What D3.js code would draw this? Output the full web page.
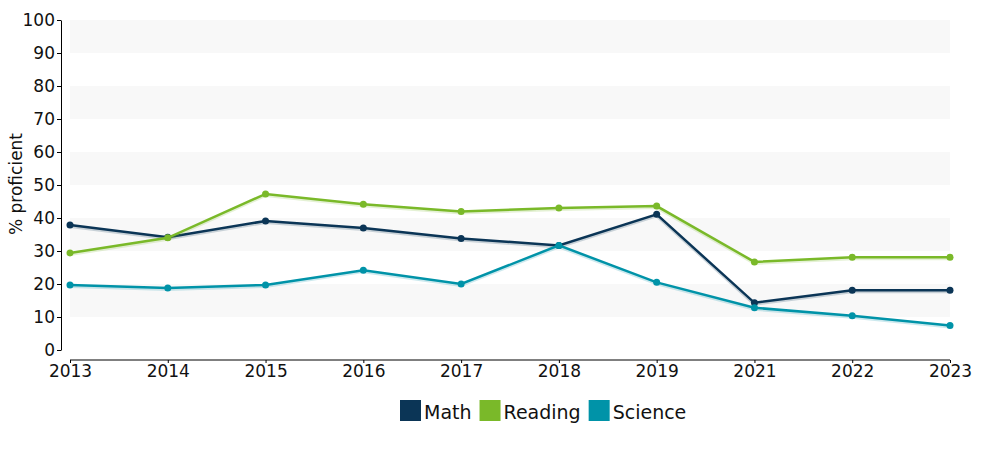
<!DOCTYPE html>
<html><head><meta charset="utf-8">
<script src="https://cdn.jsdelivr.net/npm/d3@7"></script>
<style>body{margin:0;background:#fff}svg{display:block;font-family:"DejaVu Sans",Verdana,sans-serif}</style>
</head><body><svg id="c" width="1000" height="450"></svg>
<script>
const years = ["2013","2014","2015","2016","2017","2018","2019","2021","2022","2023"];
const math = [37.9,34.2,39.1,37.0,33.8,31.7,41.1,14.3,18.1,18.1];
const reading = [29.4,34.0,47.3,44.2,42.0,43.0,43.6,26.7,28.1,28.1];
const science = [19.7,18.8,19.7,24.2,20.0,31.7,20.5,12.8,10.4,7.4];
const yTicks = [0,10,20,30,40,50,60,70,80,90,100];
const seriesNames = ["Math","Reading","Science"];
const seriesColors = ["#0b3556","#7ab929","#0093a8"];

const series = [math, reading, science].map((v,i)=>({name:seriesNames[i],color:seriesColors[i],values:v}));
const svg = d3.select("#c");
const x = d3.scalePoint().domain(years).range([70,950]);
const y = d3.scaleLinear().domain([0,100]).range([350,20]);

// bands
const bands = [];
for (let i=0;i<yTicks.length-1;i++) if (i%2===1) bands.push([yTicks[i],yTicks[i+1]]);
svg.append("g").selectAll("rect").data(bands).join("rect")
  .attr("x",70).attr("width",880)
  .attr("y",d=>y(d[1])).attr("height",d=>y(d[0])-y(d[1]))
  .attr("fill","#f8f8f8");

// y axis
const ya = svg.append("g").attr("transform","translate(61,0)")
  .call(d3.axisLeft(y).tickValues(yTicks).tickSize(4).tickPadding(2).tickSizeOuter(0));
ya.selectAll("text").attr("font-size",17).attr("fill","#111").attr("font-family","DejaVu Sans");
ya.selectAll("path,line").attr("stroke","#000");

// x axis
const xa = svg.append("g").attr("transform","translate(0,360)")
  .call(d3.axisBottom(x).tickSize(3).tickPadding(2).tickSizeOuter(0));
xa.selectAll("text").attr("font-size",17).attr("fill","#111").attr("font-family","DejaVu Sans");
xa.selectAll("path,line").attr("stroke","#000");
xa.select("path").attr("d","M70,0H950");

svg.append("text").attr("transform","translate(22,184) rotate(-90)")
  .attr("text-anchor","middle").attr("font-size",17).attr("fill","#111").text("% proficient");

const line = d3.line().x((d,i)=>x(years[i])).y(d=>y(d));
const g = svg.append("g");
series.forEach(s=>{
  g.append("path").datum(s.values).attr("d",line).attr("fill","none")
    .attr("stroke",s.color).attr("stroke-opacity",0.2).attr("stroke-width",3).attr("transform","translate(0,1.5)");
  g.append("path").datum(s.values).attr("d",line).attr("fill","none")
    .attr("stroke",s.color).attr("stroke-width",2.5);
  g.selectAll(null).data(s.values).join("circle")
    .attr("cx",(d,i)=>x(years[i])).attr("cy",d=>y(d)).attr("r",3.5).attr("fill",s.color);
});

// legend
const leg = svg.append("g");
let lx = 400;
series.forEach(s=>{
  leg.append("rect").attr("x",lx).attr("y",400).attr("width",21).attr("height",21).attr("fill",s.color);
  const t = leg.append("text").attr("x",lx+24).attr("y",419).attr("font-size",19).attr("fill","#111").text(s.name);
  lx += 24 + t.node().getComputedTextLength() + 8;
});
</script></body></html>
